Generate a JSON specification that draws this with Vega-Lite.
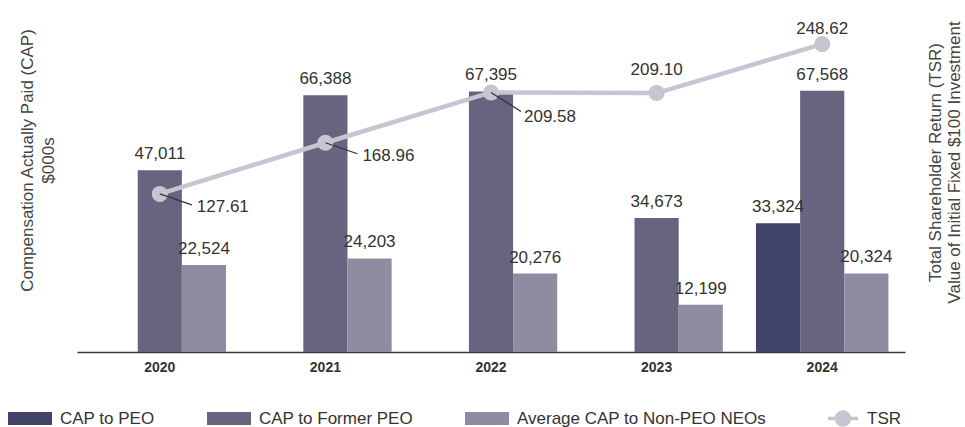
{
  "$schema": "https://vega.github.io/schema/vega-lite/v6.json",
  "width": 828,
  "height": 348,
  "autosize": {"type": "none"},
  "padding": {"left": 77, "top": 4, "right": 60, "bottom": 75},
  "background": "white",
  "config": {"font": "Liberation Sans", "view": {"stroke": null}, "axis": {"grid": false}},
  "datasets": {
    "cap": [
      {"year": "2020", "series": "CAP to Former PEO", "value": 47011},
      {"year": "2020", "series": "Average CAP to Non-PEO NEOs", "value": 22524},
      {"year": "2021", "series": "CAP to Former PEO", "value": 66388},
      {"year": "2021", "series": "Average CAP to Non-PEO NEOs", "value": 24203},
      {"year": "2022", "series": "CAP to Former PEO", "value": 67395},
      {"year": "2022", "series": "Average CAP to Non-PEO NEOs", "value": 20276},
      {"year": "2023", "series": "CAP to Former PEO", "value": 34673},
      {"year": "2023", "series": "Average CAP to Non-PEO NEOs", "value": 12199},
      {"year": "2024", "series": "CAP to PEO", "value": 33324},
      {"year": "2024", "series": "CAP to Former PEO", "value": 67568},
      {"year": "2024", "series": "Average CAP to Non-PEO NEOs", "value": 20324}
    ],
    "tsr": [
      {"year": "2020", "name": "TSR", "tsr": 127.61},
      {"year": "2021", "name": "TSR", "tsr": 168.96},
      {"year": "2022", "name": "TSR", "tsr": 209.58},
      {"year": "2023", "name": "TSR", "tsr": 209.10},
      {"year": "2024", "name": "TSR", "tsr": 248.62}
    ]
  },
  "encoding": {
    "x": {
      "field": "year",
      "type": "nominal",
      "scale": {"domain": ["2020", "2021", "2022", "2023", "2024"], "paddingInner": 0.2, "paddingOuter": 0.1},
      "axis": {
        "title": null,
        "labelAngle": 0,
        "ticks": false,
        "domainColor": "#3a3a3a",
        "domainWidth": 1.5,
        "labelFontWeight": "bold",
        "labelFontSize": 14,
        "labelColor": "#333333",
        "labelPadding": 8
      }
    }
  },
  "layer": [
    {
      "data": {"name": "cap"},
      "encoding": {
        "y": {
          "field": "value",
          "type": "quantitative",
          "scale": {"domain": [0, 90000], "nice": false},
          "axis": {
            "title": ["Compensation Actually Paid (CAP)", "$000s"],
            "labels": false,
            "ticks": false,
            "domain": false,
            "grid": false,
            "titleFontSize": 17,
            "titleFontWeight": "normal",
            "titleColor": "#444444",
            "titleLineHeight": 21,
            "titleAngle": -90,
            "titleAlign": "center",
            "titleBaseline": "bottom",
            "titleX": -41,
            "titleY": 156
          }
        },
        "xOffset": {
          "field": "series",
          "type": "nominal",
          "scale": {"domain": ["CAP to PEO", "CAP to Former PEO", "Average CAP to Non-PEO NEOs"], "paddingInner": 0, "paddingOuter": 0}
        }
      },
      "layer": [
        {
          "mark": {"type": "bar"},
          "encoding": {
            "color": {
              "field": "series",
              "type": "nominal",
              "scale": {"domain": ["CAP to PEO", "CAP to Former PEO", "Average CAP to Non-PEO NEOs"], "range": ["#414368", "#67647f", "#8f8ca2"]},
              "legend": {
                "title": null,
                "orient": "none",
                "legendX": -69,
                "legendY": 392.5,
                "direction": "horizontal",
                "symbolType": "M-1,-0.3H1V0.3H-1Z",
                "symbolSize": 1936,
                "symbolStrokeWidth": 0,
                "symbolOpacity": 1,
                "labelFontSize": 17,
                "labelColor": "#333333",
                "labelOffset": 8,
                "labelLimit": 400,
                "columnPadding": 52,
                "padding": 0
              }
            }
          }
        },
        {
          "mark": {"type": "text", "dy": -11, "baseline": "alphabetic", "fontSize": 17, "color": "#333333"},
          "encoding": {"text": {"field": "value", "type": "quantitative", "format": ","}}
        }
      ]
    },
    {
      "data": {"name": "tsr"},
      "encoding": {
        "y": {
          "field": "tsr",
          "type": "quantitative",
          "scale": {"domain": [0, 281], "nice": false},
          "axis": {
            "orient": "right",
            "title": ["Total Shareholder Return (TSR)", "Value of Initial Fixed $100 Investment"],
            "labels": false,
            "ticks": false,
            "domain": false,
            "grid": false,
            "titleFontSize": 17,
            "titleFontWeight": "normal",
            "titleColor": "#444444",
            "titleLineHeight": 19,
            "titleAngle": -90,
            "titleAlign": "center",
            "titleBaseline": "top",
            "titleX": 22,
            "titleY": 158
          }
        }
      },
      "layer": [
        {
          "mark": {"type": "line", "color": "#c6c5d2", "strokeWidth": 4.5}
        },
        {
          "mark": {"type": "point", "filled": true, "size": 260, "opacity": 1, "shape": "circle"},
          "encoding": {
            "color": {
              "field": "name",
              "type": "nominal",
              "scale": {"domain": ["TSR"], "range": ["#c6c5d2"]},
              "legend": {
                "title": null,
                "orient": "none",
                "legendX": 751,
                "legendY": 399.5,
                "symbolType": "M-1,-0.12H1V0.12H-1Z M0.55,0A0.55,0.55 0 1,1 -0.55,0A0.55,0.55 0 1,1 0.55,0Z",
                "symbolSize": 900,
                "symbolStrokeWidth": 0,
                "symbolOpacity": 1,
                "labelFontSize": 17,
                "labelColor": "#333333",
                "labelOffset": 9,
                "padding": 0
              }
            }
          }
        },
        {
          "transform": [{"filter": {"field": "year", "oneOf": ["2020", "2021"]}}],
          "mark": {"type": "rule", "color": "#333333", "strokeWidth": 1.3, "x2Offset": 32, "y2Offset": 11},
          "encoding": {"x2": {"field": "year"}, "y2": {"field": "tsr"}}
        },
        {
          "transform": [{"filter": {"field": "year", "equal": "2022"}}],
          "mark": {"type": "rule", "color": "#333333", "strokeWidth": 1.3, "x2Offset": 30, "y2Offset": 19},
          "encoding": {"x2": {"field": "year"}, "y2": {"field": "tsr"}}
        },
        {
          "transform": [{"filter": {"field": "year", "oneOf": ["2020", "2021"]}}],
          "mark": {"type": "text", "align": "left", "baseline": "alphabetic", "dx": 37, "dy": 18, "fontSize": 17, "color": "#333333"},
          "encoding": {"text": {"field": "tsr", "type": "quantitative", "format": ".2f"}}
        },
        {
          "transform": [{"filter": {"field": "year", "equal": "2022"}}],
          "mark": {"type": "text", "align": "left", "baseline": "alphabetic", "dx": 33, "dy": 30, "fontSize": 17, "color": "#333333"},
          "encoding": {"text": {"field": "tsr", "type": "quantitative", "format": ".2f"}}
        },
        {
          "transform": [{"filter": {"field": "year", "equal": "2023"}}],
          "mark": {"type": "text", "align": "center", "baseline": "alphabetic", "dy": -18, "fontSize": 17, "color": "#333333"},
          "encoding": {"text": {"field": "tsr", "type": "quantitative", "format": ".2f"}}
        },
        {
          "transform": [{"filter": {"field": "year", "equal": "2024"}}],
          "mark": {"type": "text", "align": "center", "baseline": "alphabetic", "dy": -10, "fontSize": 17, "color": "#333333"},
          "encoding": {"text": {"field": "tsr", "type": "quantitative", "format": ".2f"}}
        }
      ]
    }
  ],
  "resolve": {"scale": {"y": "independent", "color": "independent"}}
}
